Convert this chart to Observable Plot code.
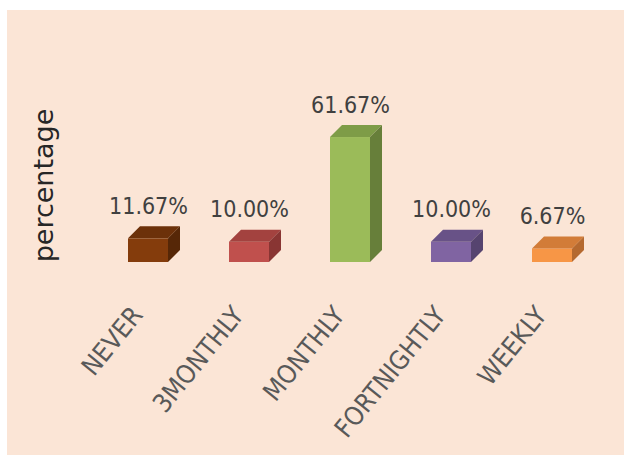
<!DOCTYPE html>
<html>
<head>
<meta charset="utf-8">
<script src="https://cdn.jsdelivr.net/npm/d3@7"></script>
<script src="https://cdn.jsdelivr.net/npm/@observablehq/plot@0.6"></script>
<style>
  html, body { margin: 0; padding: 0; background: #ffffff; }
  #chart { position: absolute; left: 7px; top: 10px; width: 617px; height: 445px; }
  #chart svg { display: block; }
</style>
</head>
<body>
<div id="chart"></div>
<script>
const categories = ["NEVER", "3MONTHLY", "MONTHLY", "FORTNIGHTLY", "WEEKLY"];
const values = [11.67, 10.00, 61.67, 10.00, 6.67];
const valueLabels = ["11.67%", "10.00%", "61.67%", "10.00%", "6.67%"];
const frontColors = ["#843c0c", "#c0504d", "#9bbb59", "#8064a2", "#f79646"];
const topColors = ["#6c310a", "#a3423f", "#7e9c47", "#685287", "#d27c38"];
const sideColors = ["#562707", "#893533", "#677f3a", "#56446f", "#b5692f"];
const yAxisTitle = "percentage";

const data = categories.map((c, i) => ({
  category: c, value: values[i], label: valueLabels[i],
  front: frontColors[i], top: topColors[i], side: sideColors[i]
}));

const depth = 12;
const labelFont = "'DejaVu Sans Condensed', 'Liberation Sans Narrow', sans-serif";

function faces(index, scales) {
  const x = scales.x, y = scales.y;
  const bw = typeof x.bandwidth === "function" ? x.bandwidth() : x.bandwidth;
  const g = d3.create("svg:g");
  for (const d of data) {
    const x0 = x(d.category), x1 = x0 + bw, yt = y(d.value), yb = y(0);
    g.append("polygon")
      .attr("points", [[x0, yt], [x0 + depth, yt - depth], [x1 + depth, yt - depth], [x1, yt]].join(" "))
      .attr("fill", d.top);
    g.append("polygon")
      .attr("points", [[x1, yt], [x1 + depth, yt - depth], [x1 + depth, yb - depth], [x1, yb]].join(" "))
      .attr("fill", d.side);
  }
  return g.node();
}

const chart = Plot.plot({
  width: 617,
  height: 445,
  marginLeft: 88.6,
  marginRight: 19.6,
  marginTop: 98,
  marginBottom: 193,
  style: { background: "#fbe5d6", overflow: "visible" },
  x: { domain: categories, paddingInner: 0.6, paddingOuter: 0.3, label: null },
  y: { domain: [0, 76], label: null },
  color: { type: "identity" },
  marks: [
    Plot.barY(data, { x: "category", y: "value", fill: "front" }),
    faces,
    Plot.text(data, {
      x: "category", y: "value", text: "label",
      dy: -25, lineAnchor: "bottom", textAnchor: "middle",
      fontSize: 23, fontFamily: labelFont, fill: "#404040"
    }),
    Plot.axisX({
      tickSize: 0, tickPadding: 48, tickRotate: -51, label: null, dx: -11,
      fontSize: 26, fontFamily: labelFont, fill: "#595959"
    }),
    Plot.axisY({
      ticks: [], tickSize: 0, label: yAxisTitle, labelAnchor: "center", labelArrow: false,
      labelOffset: 62, fontSize: 27, fontFamily: "'DejaVu Sans', sans-serif", fill: "#262626",
      style: { letterSpacing: "1px" }
    })
  ]
});

document.getElementById("chart").appendChild(chart);
</script>
</body>
</html>
